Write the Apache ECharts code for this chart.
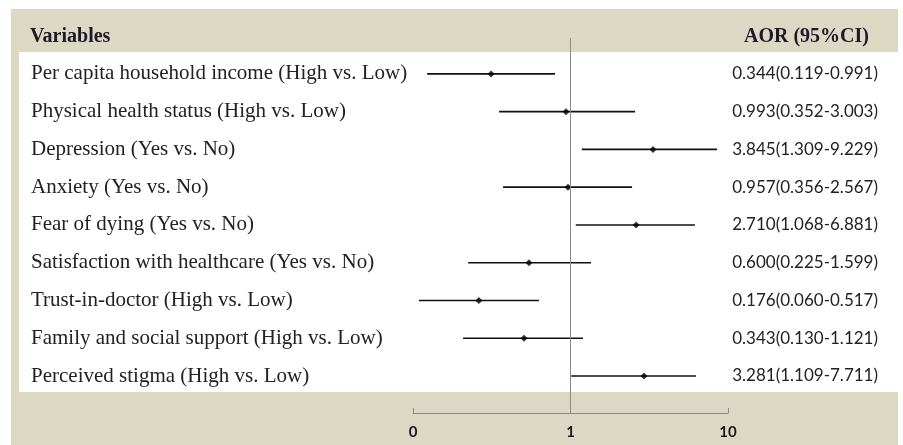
<!DOCTYPE html>
<html><head><meta charset="utf-8">
<script src="https://cdn.jsdelivr.net/npm/echarts@6/dist/echarts.min.js"></script>
<style>html,body{margin:0;padding:0;background:#fff}#c{width:903px;height:445px}</style>
</head><body><div id="c"></div>
<script>
const variables = [
  'Per capita household income (High vs. Low)',
  'Physical health status (High vs. Low)',
  'Depression (Yes vs. No)',
  'Anxiety (Yes vs. No)',
  'Fear of dying (Yes vs. No)',
  'Satisfaction with healthcare (Yes vs. No)',
  'Trust-in-doctor (High vs. Low)',
  'Family and social support (High vs. Low)',
  'Perceived stigma (High vs. Low)'
];
const aorText = [
  '0.344(0.119-0.991)','0.993(0.352-3.003)','3.845(1.309-9.229)',
  '0.957(0.356-2.567)','2.710(1.068-6.881)','0.600(0.225-1.599)',
  '0.176(0.060-0.517)','0.343(0.130-1.121)','3.281(1.109-7.711)'
];
// plotted positions (log scale)
const pointVals = [0.313, 0.936, 3.34, 0.964, 2.61, 0.545, 0.262, 0.507, 2.93];
const lowVals   = [0.123, 0.352, 1.18, 0.373, 1.08, 0.224, 0.109, 0.208, 1.01];
const highVals  = [0.797, 2.57, 8.51, 2.46, 6.17, 1.35, 0.631, 1.20, 6.26];
const tickLabels = {0.1: '0', 1: '1', 10: '10'};

const chart = echarts.init(document.getElementById('c'), null, {renderer: 'canvas'});
const serif = '"Liberation Serif", serif';
const sans = 'Lato, sans-serif';
const option = {
  backgroundColor: '#ffffff',
  animation: false,
  graphic: [
    {type: 'rect', z: -10, shape: {x: 11, y: 9, width: 887, height: 440}, style: {fill: '#ddd8c4'}},
    {type: 'rect', z: -9, shape: {x: 19, y: 52, width: 879, height: 340}, style: {fill: '#ffffff'}},
    {type: 'text', z: 5, x: 30, y: 37, style: {text: 'Variables', font: 'bold 20px ' + serif, fill: '#1a1a28', textVerticalAlign: 'middle'}},
    {type: 'text', z: 5, x: 869, y: 37, style: {text: 'AOR (95%CI)', font: 'bold 20px ' + serif, fill: '#1a1a28', textAlign: 'right', textVerticalAlign: 'middle'}}
  ],
  grid: {left: 413, right: 175, top: 38, bottom: 32},
  xAxis: {
    type: 'log', logBase: 10, min: 0.1, max: 10,
    axisLine: {show: true, onZero: false, lineStyle: {color: '#8a8a8a', width: 1}},
    axisTick: {show: true, inside: true, length: 5, lineStyle: {color: '#8a8a8a'}},
    minorTick: {show: false},
    splitLine: {show: false},
    axisLabel: {margin: 12, fontFamily: sans, fontWeight: 'bold', fontSize: 15, color: '#1a1a1a',
      formatter: v => tickLabels[+v.toPrecision(3)] ?? ''}
  },
  yAxis: {type: 'value', inverse: true, min: -0.95, max: 8.98, show: false},
  series: [
    {
      type: 'custom', z: 3,
      data: variables.map((v, i) => [lowVals[i], highVals[i], i]),
      encode: {x: [0, 1], y: 2},
      renderItem: (params, api) => {
        const a = api.coord([api.value(0), api.value(2)]);
        const b = api.coord([api.value(1), api.value(2)]);
        return {type: 'line', shape: {x1: a[0], y1: a[1], x2: b[0], y2: b[1]},
          style: {stroke: '#111', lineWidth: 1.6}};
      }
    },
    {
      type: 'scatter', z: 4,
      symbol: 'diamond', symbolSize: 7,
      itemStyle: {color: '#000'},
      data: pointVals.map((v, i) => [v, i]),
      markLine: {
        silent: true, symbol: 'none', label: {show: false},
        lineStyle: {color: '#8a8a8a', type: 'solid', width: 1},
        data: [{xAxis: 1}]
      }
    },
    {
      type: 'custom', z: 5, clip: false,
      data: variables.map((v, i) => [1, i]),
      encode: {x: 0, y: 1},
      renderItem: (params, api) => {
        const i = params.dataIndex;
        const y = api.coord([1, api.value(1)])[1];
        return {type: 'group', children: [
          {type: 'text', x: 31, y: y, style: {text: variables[i], font: '21px ' + serif, fill: '#222', textVerticalAlign: 'middle'}},
          {type: 'text', x: 878, y: y, style: {text: aorText[i], font: '17px ' + sans, fill: '#222', textAlign: 'right', textVerticalAlign: 'middle'}}
        ]};
      }
    }
  ]
};
chart.setOption(option);
</script></body></html>
